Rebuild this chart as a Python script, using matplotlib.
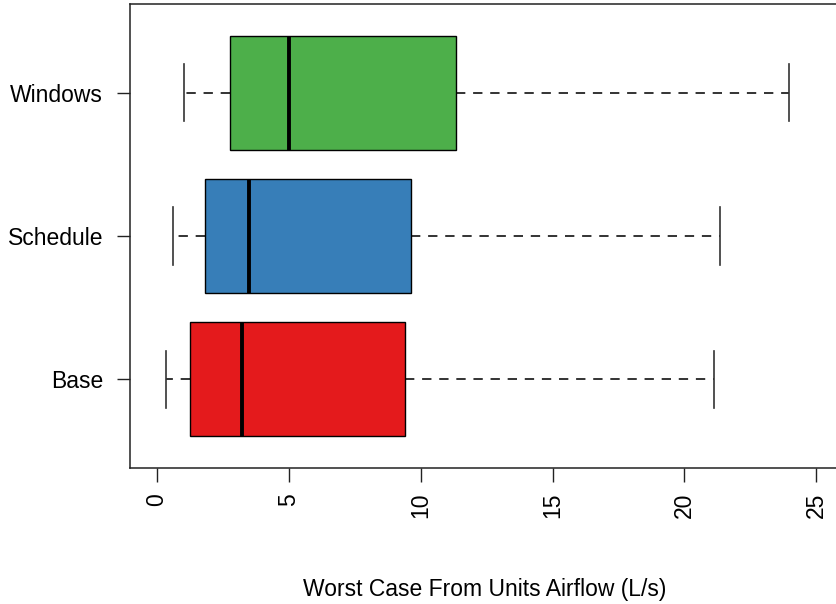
import matplotlib

matplotlib.use("Agg")

import matplotlib.pyplot as plt

categories = ["Base", "Schedule", "Windows"]
whisker_low = [0.33, 0.62, 1.02]
q1 = [1.25, 1.84, 2.79]
median = [3.22, 3.48, 5.02]
q3 = [9.40, 9.65, 11.33]
whisker_high = [21.12, 21.34, 23.98]
colors = ["#E41A1C", "#377EB8", "#4DAF4A"]
x_ticks = [0, 5, 10, 15, 20, 25]

plt.rcParams["font.family"] = ["Liberation Sans", "DejaVu Sans"]

stats = [
    {"label": c, "whislo": lo, "q1": a, "med": m, "q3": b, "whishi": hi, "fliers": []}
    for c, lo, a, m, b, hi in zip(categories, whisker_low, q1, median, q3, whisker_high)
]

fig = plt.figure(figsize=(8.36, 6.04), dpi=100)
ax = fig.add_axes([130 / 836, 136 / 604, 710 / 836, 464 / 604])

bp = ax.bxp(
    stats,
    positions=[1, 2, 3],
    vert=False,
    widths=0.8,
    patch_artist=True,
    showfliers=False,
    boxprops={"edgecolor": "black", "linewidth": 1.0},
    medianprops={"color": "black", "linewidth": 2.8, "solid_capstyle": "butt"},
    whiskerprops={"color": "#333333", "linewidth": 1.4, "linestyle": (0, (4.8, 4.0))},
    capprops={"color": "#333333", "linewidth": 1.2},
    capwidths=0.4,
)
for patch, col in zip(bp["boxes"], colors):
    patch.set_facecolor(col)
# whiskers go under the boxes
for w in bp["whiskers"]:
    w.set_zorder(1)

ax.set_xlim(-1.02, 25.9)
ax.set_ylim(0.38, 3.62)
ax.set_xticks(x_ticks)
ax.set_xticklabels([str(t) for t in x_ticks], rotation=90, fontsize=16.5)
ax.set_yticks([1, 2, 3])
ax.set_yticklabels(categories, fontsize=16.5)
ax.tick_params(axis="x", length=10, width=1.0, pad=8, color="#222222")
ax.tick_params(axis="y", length=9.4, width=1.0, pad=10, color="#222222")
for s in ax.spines.values():
    s.set_linewidth(1.1)
    s.set_color("#222222")

ax.set_xlabel("Worst Case From Units Airflow (L/s)", fontsize=16.5, labelpad=43)

fig.savefig("out.png", dpi=100)
